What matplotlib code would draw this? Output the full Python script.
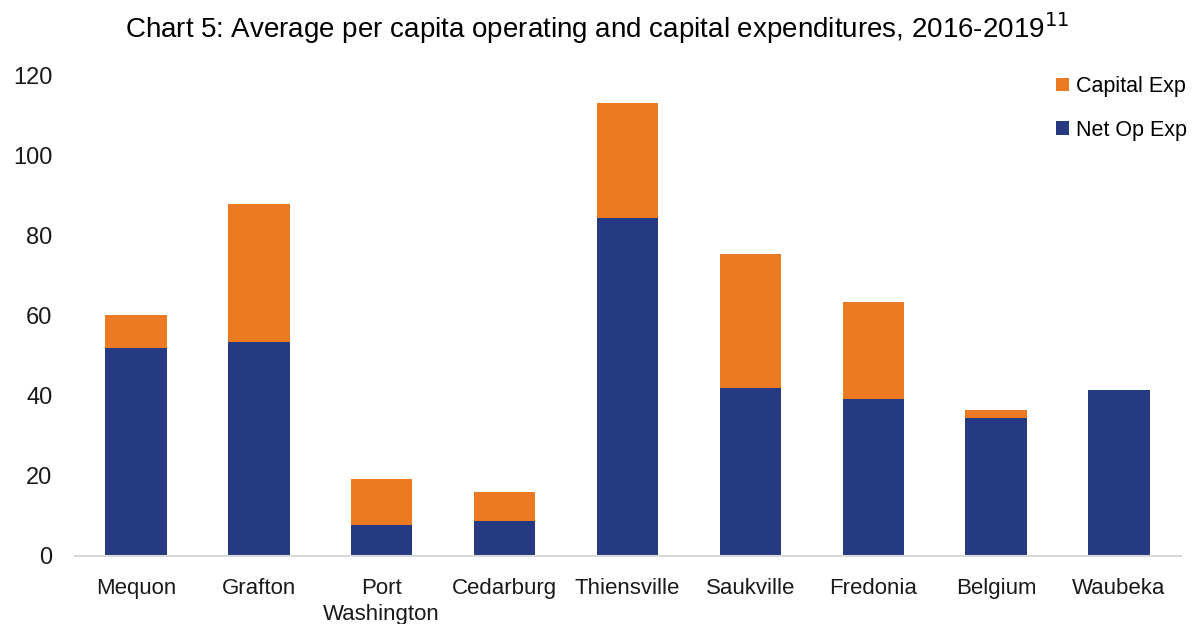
import matplotlib
matplotlib.use("Agg")
import matplotlib.pyplot as plt
from matplotlib.patches import Patch

# Average per capita expenditures by municipality, 2016-2019
categories = ["Mequon", "Grafton", "Port\nWashington", "Cedarburg", "Thiensville",
              "Saukville", "Fredonia", "Belgium", "Waubeka"]
net_op_exp = [51.9, 53.4, 7.8, 8.7, 84.3, 41.9, 39.2, 34.4, 41.5]
capital_exp = [8.1, 34.4, 11.4, 7.2, 28.6, 33.4, 24.1, 2.1, 0.0]
y_ticks = [0, 20, 40, 60, 80, 100, 120]

NAVY = "#263a84"
ORANGE = "#ec7a23"

plt.rcParams["font.family"] = ["Liberation Sans", "DejaVu Sans"]

fig = plt.figure(figsize=(11.94, 6.24), dpi=100)
ax = fig.add_axes([0.0624, 0.109, 0.9263, 0.7708])

x = list(range(len(categories)))
ax.bar(x, net_op_exp, width=0.5, color=NAVY, linewidth=0)
ax.bar(x, capital_exp, width=0.5, bottom=net_op_exp, color=ORANGE, linewidth=0)

ax.set_xlim(-0.5, len(categories) - 0.5)
ax.set_ylim(0, 120)
ax.set_yticks(y_ticks)
ax.set_yticklabels([str(t) for t in y_ticks], fontsize=17, color="#1a1a1a")
ax.set_xticks(x)
ax.set_xticklabels(categories, fontsize=16, color="#1a1a1a", linespacing=1.3,
                   va="top")
ax.tick_params(axis="both", length=0)
ax.tick_params(axis="y", pad=16)
ax.tick_params(axis="x", pad=16)

for side in ("top", "right", "left"):
    ax.spines[side].set_visible(False)
ax.spines["bottom"].set_color("#d9d9d9")
ax.spines["bottom"].set_linewidth(1.5)

handles = [Patch(facecolor=ORANGE, label="Capital Exp"),
           Patch(facecolor=NAVY, label="Net Op Exp")]
leg = fig.legend(handles=handles, loc="upper right", bbox_to_anchor=(1.01, 0.909),
                 frameon=False, fontsize=15.5, handlelength=0.6, handleheight=0.6,
                 handletextpad=0.3, labelspacing=1.05)

fig.text(0.5, 0.955, "Chart 5: Average per capita operating and capital expenditures, 2016-2019$^{11}$",
         ha="center", va="center", fontsize=20, color="#000000")

fig.savefig("out.png", dpi=100)
